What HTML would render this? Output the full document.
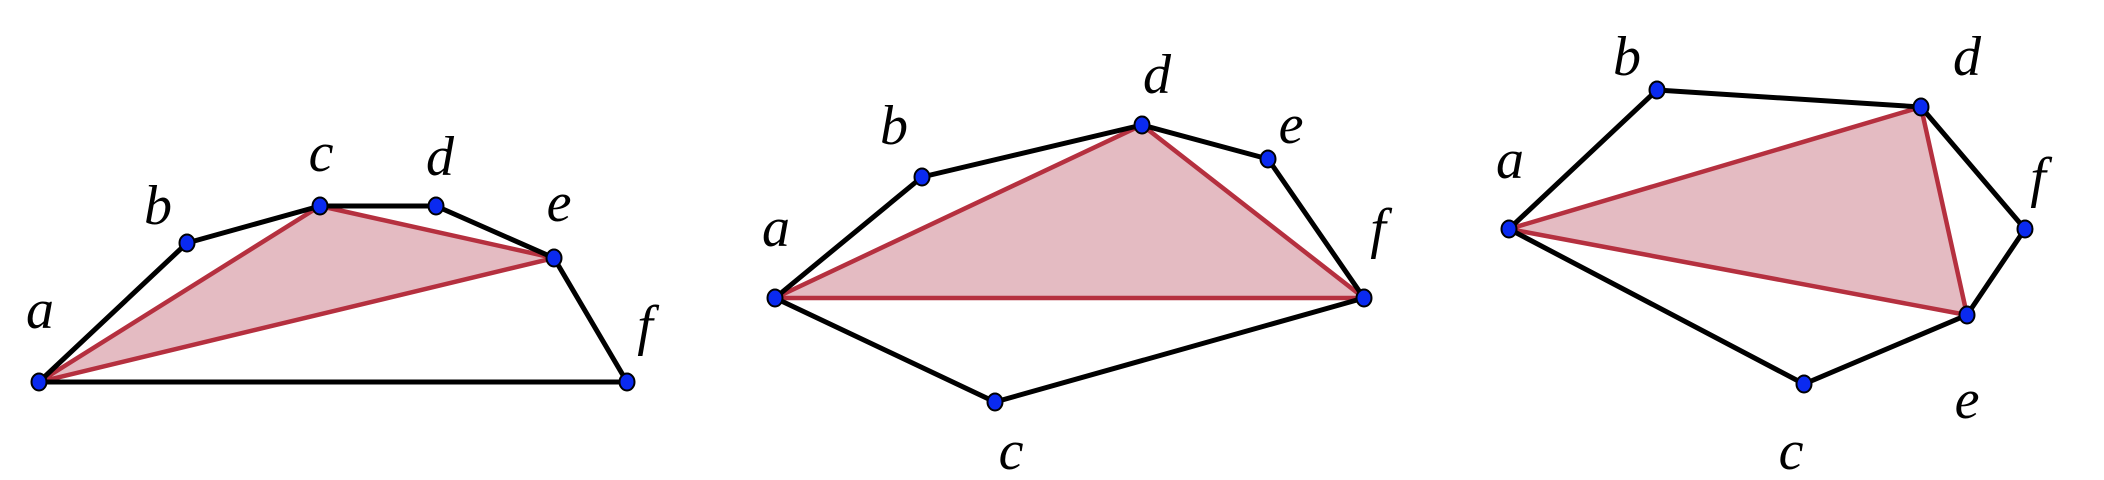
<!DOCTYPE html>
<html><head><meta charset="utf-8"><style>html,body{margin:0;padding:0;background:#fff}svg{display:block}
text{font-family:"Liberation Serif",serif;font-style:italic;font-size:56px;fill:#000;text-anchor:middle;dominant-baseline:central}</style></head>
<body>
<svg width="2104" height="480" viewBox="0 0 2104 480" xmlns="http://www.w3.org/2000/svg">
<g stroke-linejoin="round" stroke-linecap="round">
<polygon points="39,382 320,206 554,258" fill="#e4bbc2" stroke="#b5303f" stroke-width="4.5"/>
<polyline points="39,382 187,243 320,206 436,206 554,258 627,382 39,382" fill="none" stroke="#000" stroke-width="5"/>
<polygon points="775,298 1142,125 1364,298" fill="#e4bbc2" stroke="#b5303f" stroke-width="4.5"/>
<polyline points="775,298 922,177 1142,125 1268,159 1364,298 995,402 775,298" fill="none" stroke="#000" stroke-width="5"/>
<polygon points="1509,229 1921,107 1967,315" fill="#e4bbc2" stroke="#b5303f" stroke-width="4.5"/>
<polyline points="1509,229 1657,90 1921,107 2025,229 1967,315 1804,384 1509,229" fill="none" stroke="#000" stroke-width="5"/>
</g>
<g fill="#0a2af0" stroke="#000" stroke-width="2">
<ellipse cx="39" cy="382" rx="7.5" ry="8.5"/><ellipse cx="187" cy="243" rx="7.5" ry="8.5"/><ellipse cx="320" cy="206" rx="7.5" ry="8.5"/><ellipse cx="436" cy="206" rx="7.5" ry="8.5"/><ellipse cx="554" cy="258" rx="7.5" ry="8.5"/><ellipse cx="627" cy="382" rx="7.5" ry="8.5"/>
<ellipse cx="775" cy="298" rx="7.5" ry="8.5"/><ellipse cx="922" cy="177" rx="7.5" ry="8.5"/><ellipse cx="1142" cy="125" rx="7.5" ry="8.5"/><ellipse cx="1268" cy="159" rx="7.5" ry="8.5"/><ellipse cx="1364" cy="298" rx="7.5" ry="8.5"/><ellipse cx="995" cy="402" rx="7.5" ry="8.5"/>
<ellipse cx="1509" cy="229" rx="7.5" ry="8.5"/><ellipse cx="1657" cy="90" rx="7.5" ry="8.5"/><ellipse cx="1921" cy="107" rx="7.5" ry="8.5"/><ellipse cx="2025" cy="229" rx="7.5" ry="8.5"/><ellipse cx="1967" cy="315" rx="7.5" ry="8.5"/><ellipse cx="1804" cy="384" rx="7.5" ry="8.5"/>
</g>
<text x="40" y="310">a</text><text x="158" y="206">b</text><text x="321" y="153">c</text><text x="440" y="157">d</text><text x="559" y="203">e</text><text x="645" y="326">f</text>
<text x="776" y="228">a</text><text x="894" y="126">b</text><text x="1157" y="75">d</text><text x="1291" y="125">e</text><text x="1378" y="229">f</text><text x="1011" y="451">c</text>
<text x="1510" y="160">a</text><text x="1627" y="57">b</text><text x="1967" y="57">d</text><text x="2038" y="178">f</text><text x="1967" y="400">e</text><text x="1791" y="451">c</text>
</svg>
</body></html>
